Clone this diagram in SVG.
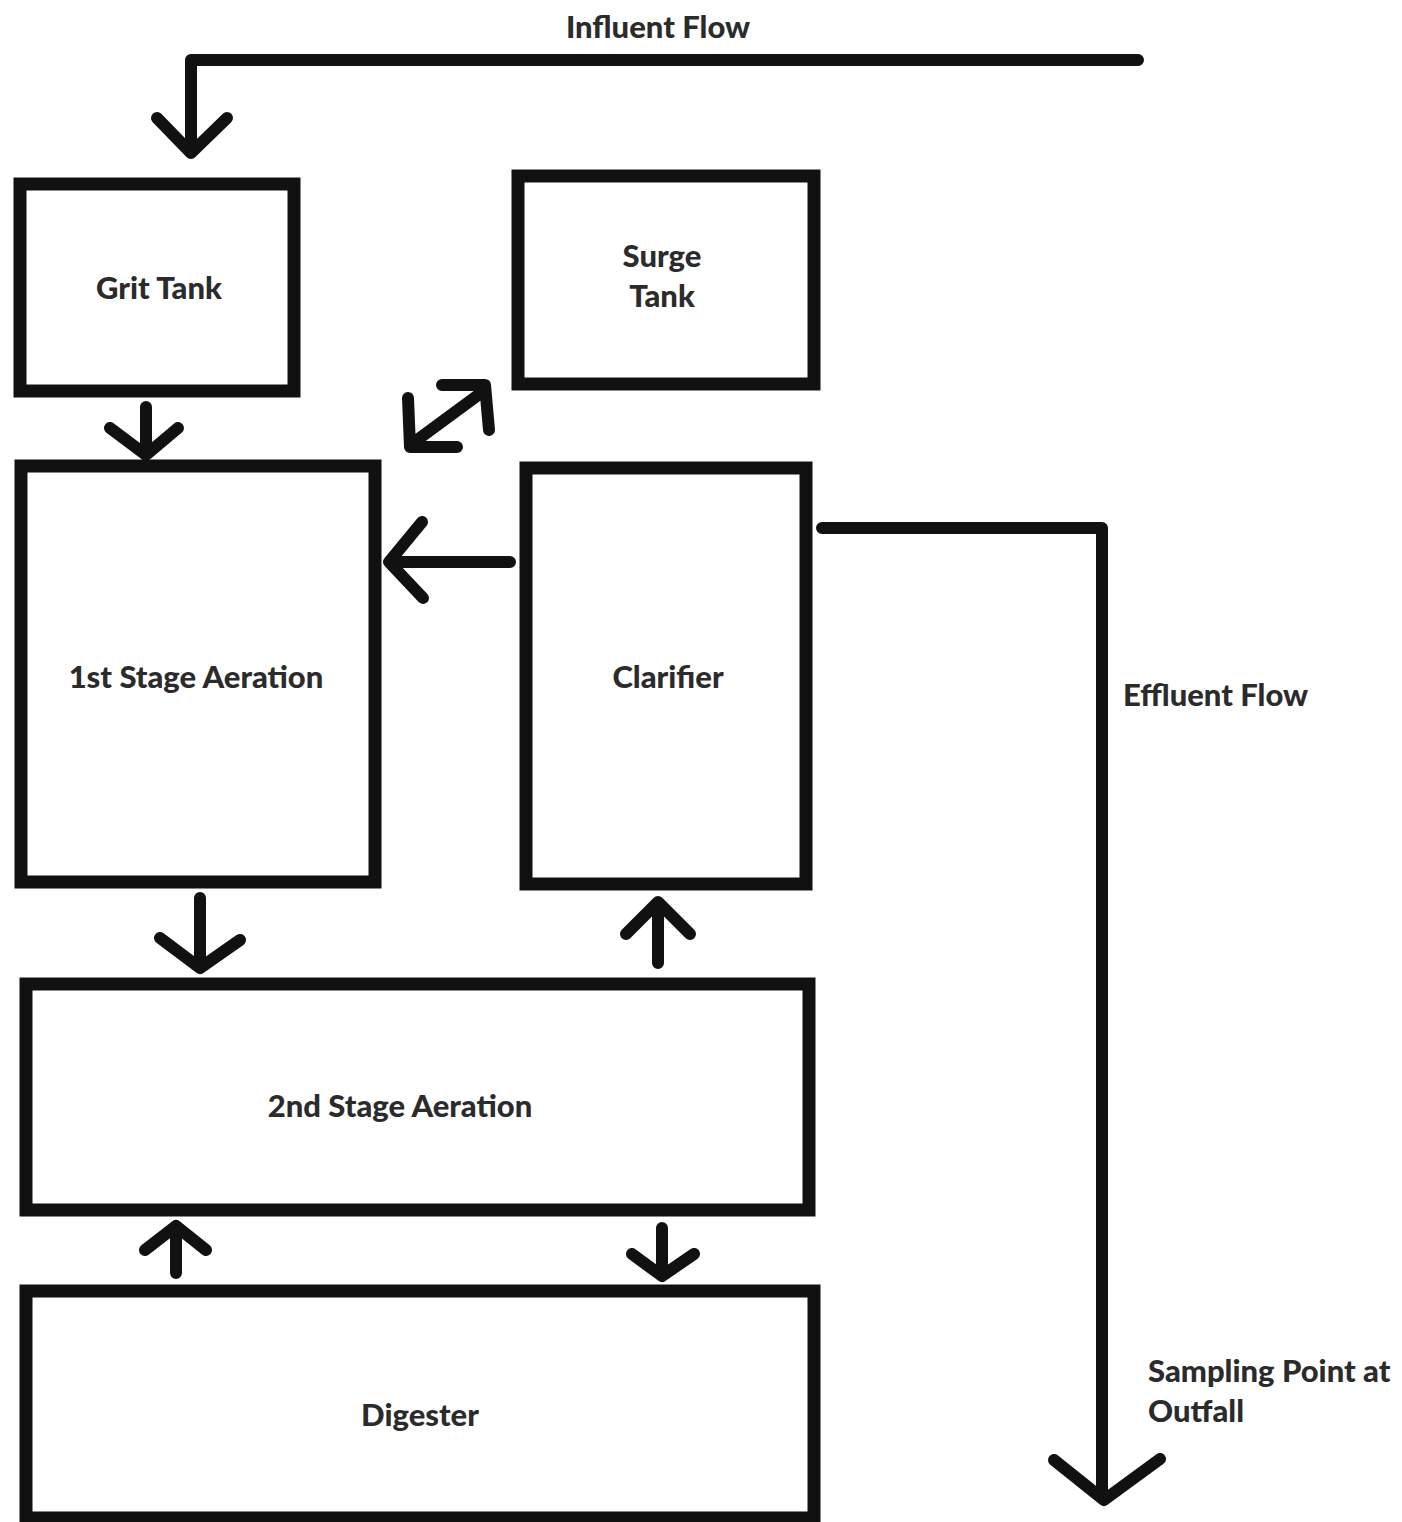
<svg xmlns="http://www.w3.org/2000/svg" width="1402" height="1522" viewBox="0 0 1402 1522">
<style>
.box{fill:none;stroke:#111;stroke-width:13}
.ln{fill:none;stroke:#111;stroke-width:12;stroke-linecap:round;stroke-linejoin:round}
.t{font-family:Lato,"Open Sans",sans-serif;font-weight:900;font-size:31px;fill:#2b2b2b}
.c{text-anchor:middle}
</style>
<rect width="1402" height="1522" fill="#fff"/>
<g id="grit-tank"><rect class="box" x="20" y="184" width="274" height="207"/><text class="t c" x="159" y="299">Grit Tank</text></g>
<g id="surge-tank"><rect class="box" x="518" y="176" width="296" height="208"/><text class="t c" x="662" y="267">Surge</text><text class="t c" x="662" y="307">Tank</text></g>
<g id="first-stage-aeration"><rect class="box" x="21" y="466" width="354" height="416"/><text class="t c" x="196" y="688">1st Stage Aeration</text></g>
<g id="clarifier"><rect class="box" x="526" y="468" width="280" height="416"/><text class="t c" x="668" y="688">Clarifier</text></g>
<g id="second-stage-aeration"><rect class="box" x="26" y="984" width="783" height="226"/><text class="t c" x="400" y="1117">2nd Stage Aeration</text></g>
<g id="digester"><rect class="box" x="26" y="1291" width="788" height="227"/><text class="t c" x="420" y="1426">Digester</text></g>
<g id="labels">
<text class="t c" x="658" y="38">Influent Flow</text>
<text class="t" x="1123" y="706">Effluent Flow</text>
<text class="t" x="1148" y="1382">Sampling Point at</text>
<text class="t" x="1148" y="1422">Outfall</text>
</g>
<g id="connectors">
<path class="ln" d="M1138 60 H191 V152"/>
<path class="ln" d="M157 118 L191 153 L227 118"/>
<path class="ln" d="M146 407 V453 M110 428 L146 455 L178 428"/>
<path class="ln" d="M413 443 L485 390 M442 385 H485 L489 430 M408 398 L410 447 H457"/>
<path class="ln" d="M510 562 H390 M422 522 L389 562 L423 598"/>
<path class="ln" d="M200 898 V966 M160 938 L200 968 L240 940"/>
<path class="ln" d="M658 963 V903 M626 934 L658 902 L690 934"/>
<path class="ln" d="M176 1273 V1228 M145 1250 L176 1226 L206 1250"/>
<path class="ln" d="M662 1228 V1274 M632 1254 L662 1276 L694 1254"/>
<path class="ln" d="M822 528 H1102 V1498"/>
<path class="ln" d="M1054 1460 L1104 1500 L1160 1459"/>
</g>
</svg>
